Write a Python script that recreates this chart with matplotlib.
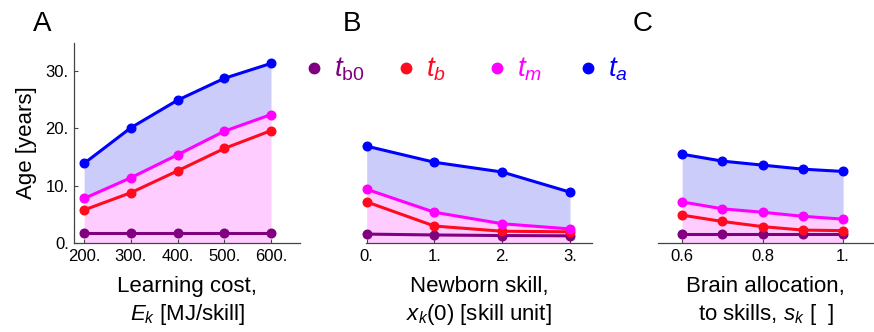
import matplotlib
matplotlib.use('Agg')
import matplotlib.pyplot as plt

plt.rcParams['font.family'] = 'Liberation Sans'
plt.rcParams['mathtext.fontset'] = 'custom'
plt.rcParams['mathtext.rm'] = 'Liberation Sans'
plt.rcParams['mathtext.it'] = 'Liberation Sans:italic'

# panel A: learning cost
cost = [200, 300, 400, 500, 600]
A_tb0 = [1.75, 1.75, 1.75, 1.75, 1.75]
A_tb = [5.8, 8.8, 12.6, 16.5, 19.6]
A_tm = [7.8, 11.4, 15.4, 19.5, 22.4]
A_ta = [13.9, 20.1, 24.9, 28.7, 31.3]

# panel B: newborn skill
skill0 = [0, 1, 2, 3]
B_tb0 = [1.6, 1.45, 1.35, 1.3]
B_tb = [7.2, 3.0, 2.1, 2.0]
B_tm = [9.4, 5.4, 3.4, 2.5]
B_ta = [16.9, 14.1, 12.4, 8.9]

# panel C: brain allocation to skills
alloc = [0.6, 0.7, 0.8, 0.9, 1.0]
C_tb0 = [1.55, 1.55, 1.55, 1.55, 1.55]
C_tb = [4.9, 3.8, 2.9, 2.3, 2.2]
C_tm = [7.2, 6.0, 5.4, 4.7, 4.2]
C_ta = [15.5, 14.3, 13.6, 12.9, 12.5]

c_tb0 = '#800080'
c_tb = '#ff0a1e'
c_tm = '#ff00ff'
c_ta = '#0000ff'
axcol = '#444444'

fig = plt.figure(figsize=(8.74, 3.32), dpi=100)

bot = 88.7 / 332
hgt = 200.6 / 332
axA = fig.add_axes([74.3 / 874, bot, 225.7 / 874, hgt])
axB = fig.add_axes([366 / 874, bot, 225.7 / 874, hgt])
axC = fig.add_axes([658 / 874, bot, 215.3 / 874, hgt])


def panel(ax, x, tb0, tb, tm, ta):
    ax.fill_between(x, 0, tm, color='#ffccff', lw=0, zorder=1)
    ax.fill_between(x, tm, ta, color='#ccccfa', lw=0, zorder=1)
    for y, c in [(tb0, c_tb0), (tb, c_tb), (tm, c_tm), (ta, c_ta)]:
        ax.plot(x, y, color=c, lw=2.2, marker='o', ms=6.2, zorder=3,
                clip_on=False)
    ax.set_ylim(0, 34.9)
    for s in ['top', 'right']:
        ax.spines[s].set_visible(False)
    ax.spines['bottom'].set_color(axcol)
    ax.spines['left'].set_color(axcol)
    ax.spines['bottom'].set_linewidth(0.9)
    ax.spines['left'].set_linewidth(0.9)
    ax.tick_params(direction='in', length=3, width=0.8, color=axcol,
                   labelsize=12, pad=4)
    ax.patch.set_alpha(0)


panel(axA, cost, A_tb0, A_tb, A_tm, A_ta)
panel(axB, skill0, B_tb0, B_tb, B_tm, B_ta)
panel(axC, alloc, C_tb0, C_tb, C_tm, C_ta)

axA.set_xlim(179, 662)
axA.set_xticks(cost)
axA.set_xticklabels(['200.', '300.', '400.', '500.', '600.'])
axA.set_yticks([0, 10, 20, 30])
axA.set_yticklabels(['0.', '10.', '20.', '30.'])
axA.set_ylabel('Age [years]', fontsize=16, labelpad=6)

axB.set_xlim(-0.01, 3.32)
axB.set_xticks(skill0)
axB.set_xticklabels(['0.', '1.', '2.', '3.'])

axC.set_xlim(0.54, 1.075)
axC.set_xticks([0.6, 0.8, 1.0])
axC.set_xticklabels(['0.6', '0.8', '1.'])

for ax in (axB, axC):
    ax.spines['left'].set_visible(False)
    ax.set_yticks([])

for ax, txt in [(axA, 'Learning cost,\n$E_k$ [MJ/skill]'),
                (axB, 'Newborn skill,\n$x_k$(0) [skill unit]'),
                (axC, 'Brain allocation,\nto skills, $s_k$ [  ]')]:
    ax.set_xlabel(txt, fontsize=16, linespacing=1.25, labelpad=9)

for lab, xp in [('A', 42), ('B', 352), ('C', 643)]:
    fig.text(xp / 874, 1 - 24 / 332, lab, fontsize=20, ha='center',
             va='center')

# legend row drawn in pixel coordinates
lg = fig.add_axes([0, 0, 1, 1])
lg.set_xlim(0, 874)
lg.set_ylim(332, 0)
lg.axis('off')
names = [r'$t_{\mathrm{b0}}$', r'$t_b$', r'$t_m$', r'$t_a$']
cols = [c_tb0, c_tb, c_tm, c_ta]
dot_x = [314, 406, 497, 588]
for name, c, xd in zip(names, cols, dot_x):
    lg.plot([xd], [68], 'o', ms=7.5, color=c)
    lg.text(xd + 20, 69, name, color=c, fontsize=20, ha='left',
            va='center')

fig.savefig('out.png', dpi=100)
